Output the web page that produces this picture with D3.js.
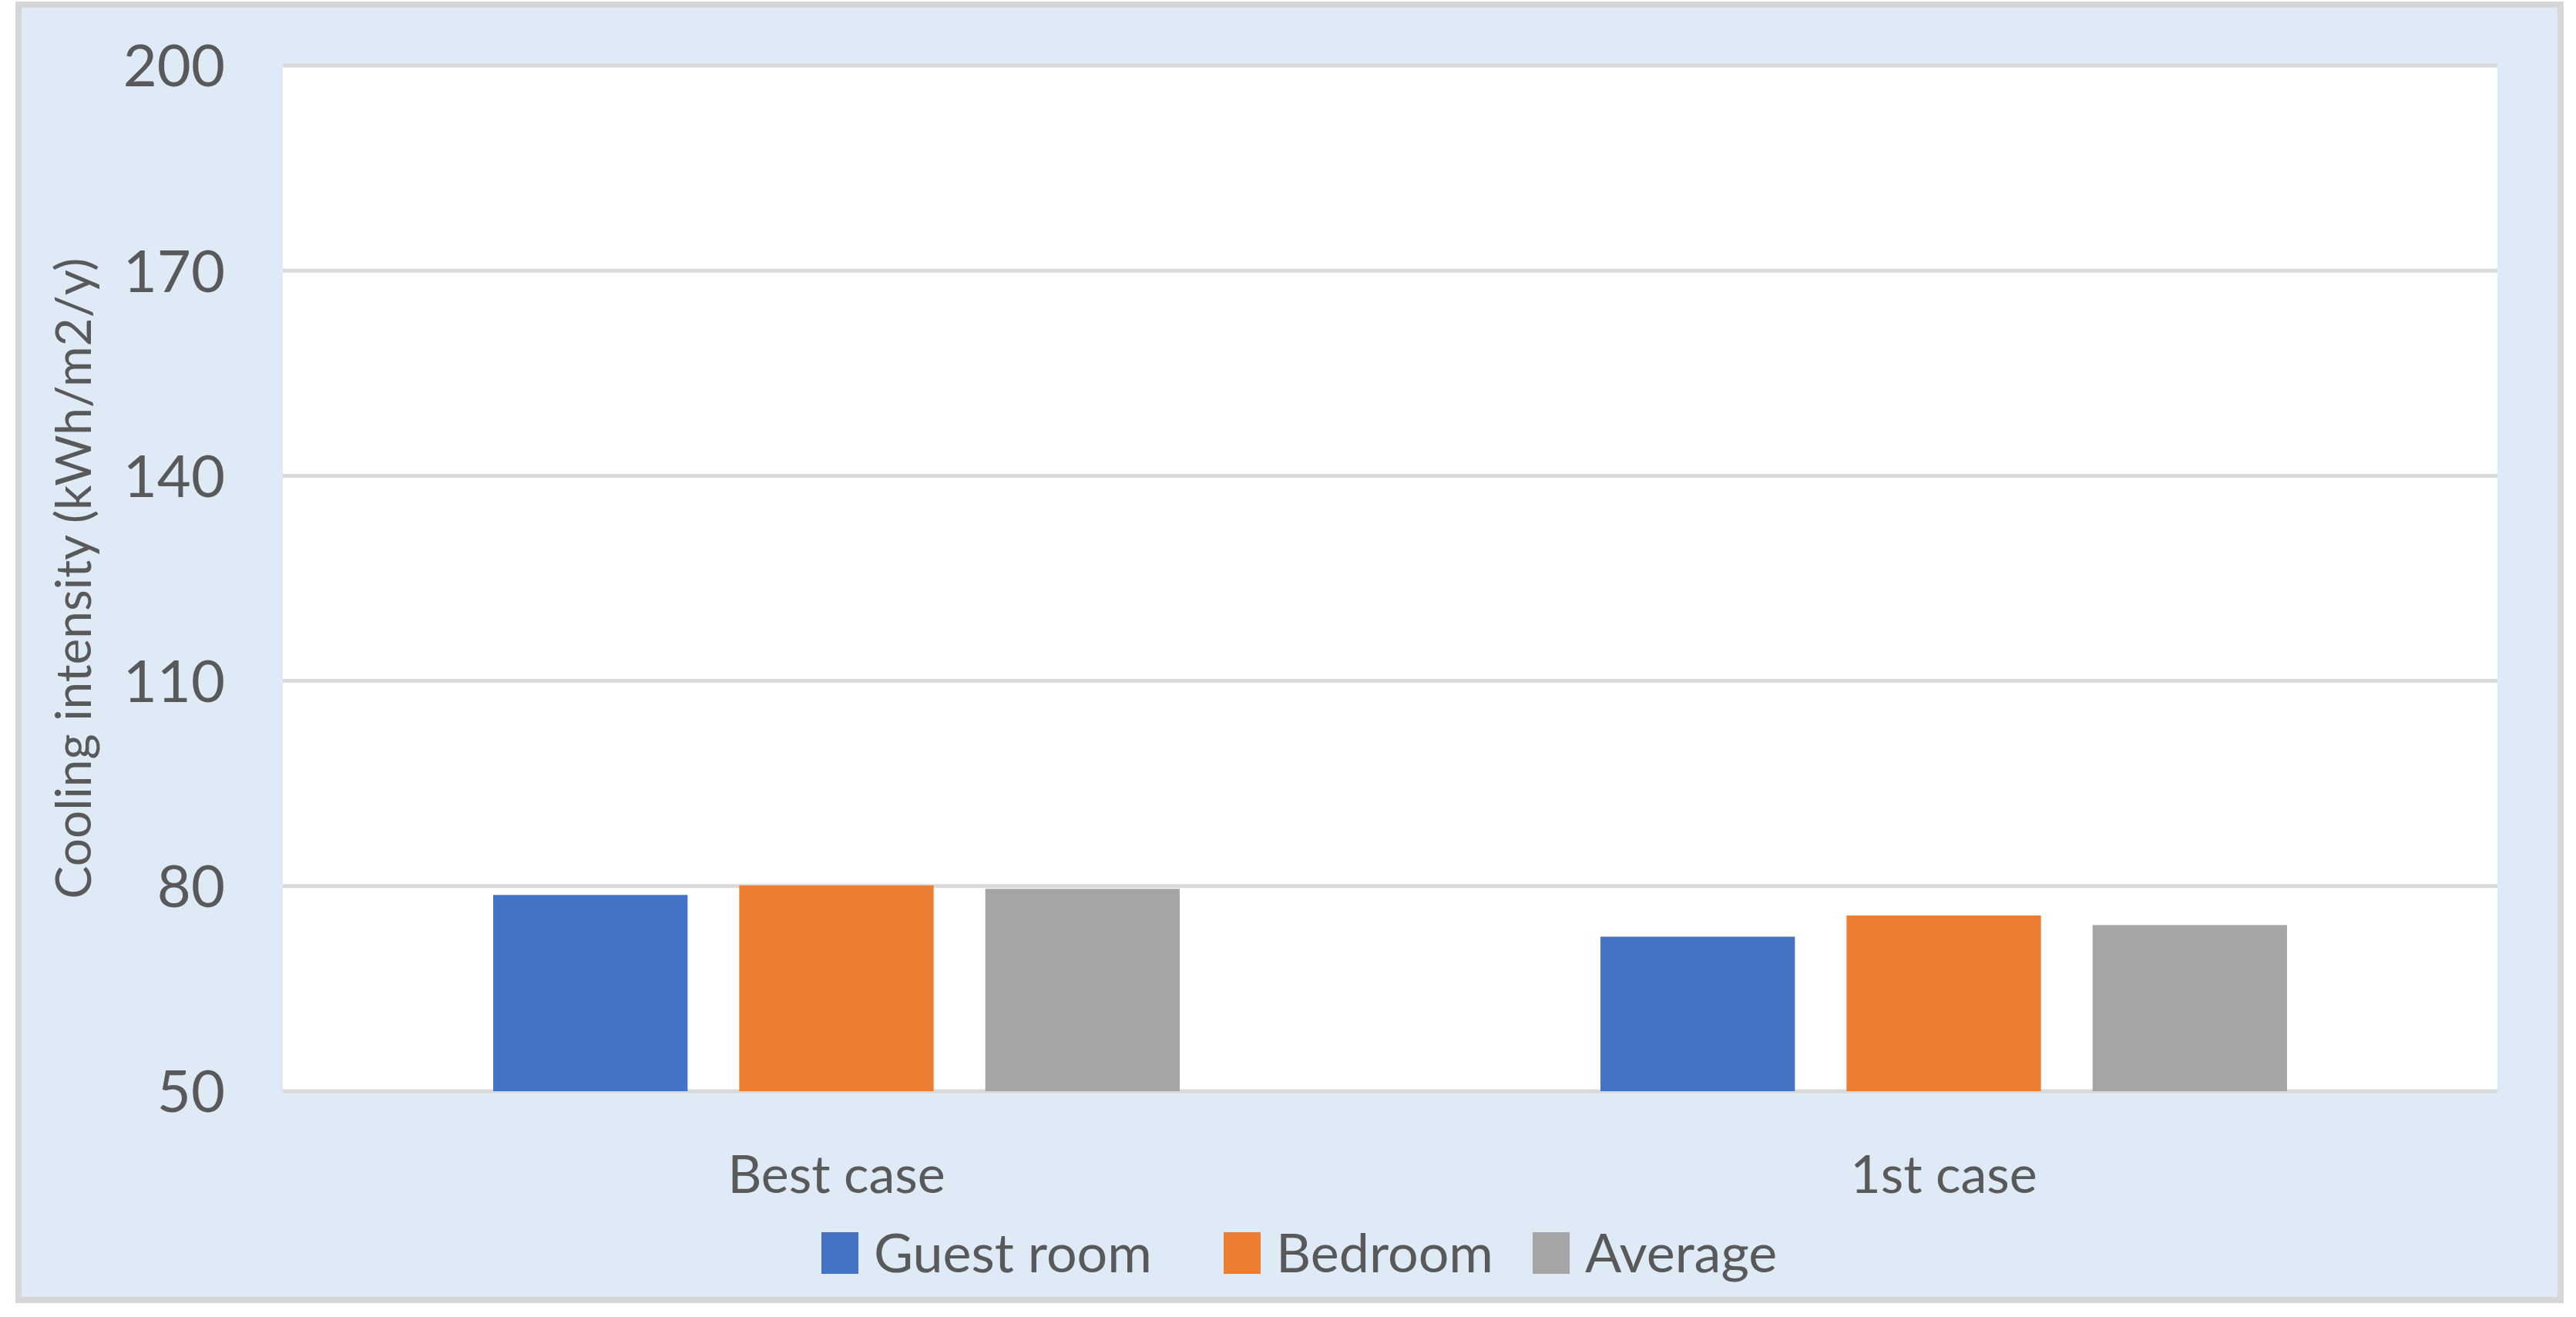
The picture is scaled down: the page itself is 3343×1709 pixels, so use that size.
<!DOCTYPE html>
<html><head><meta charset="utf-8">
<script src="https://cdn.jsdelivr.net/npm/d3@7"></script>
<style>body{margin:0;background:#fff}</style>
</head><body><div id="chart"></div>
<script>
const categories = ["Best case", "1st case"];
const series = ["Guest room", "Bedroom", "Average"];
const colors = ["#4472c4", "#ed7d31", "#a5a5a5"];
const guestRoom = [78.7, 72.6];
const bedroom = [80.1, 75.7];
const average = [79.6, 74.3];
const yTicks = [50, 80, 110, 140, 170, 200];

const W = 3343, H = 1709;
const margin = { top: 85, right: 102, bottom: 293, left: 367 };
const width = W - margin.left - margin.right;
const height = H - margin.top - margin.bottom;
const font = "Lato, 'Open Sans', sans-serif";

const root = d3.select("#chart").append("svg").attr("width", W).attr("height", H);
root.append("rect").attr("x", 24).attr("y", 6).attr("width", W - 44).attr("height", H - 28)
  .attr("fill", "#deeaf5").attr("stroke", "#d6d6d6").attr("stroke-width", 8);

const svg = root.append("g").attr("transform", `translate(${margin.left},${margin.top})`);
svg.append("rect").attr("width", width).attr("height", height).attr("fill", "#fff");

const y = d3.scaleLinear().domain([50, 200]).range([height, 0]);
const x0 = d3.scaleBand().domain(categories).range([0, width]);
const x1 = d3.scaleBand().domain(series)
  .range([x0.bandwidth() * 0.19, x0.bandwidth() * 0.81]).paddingInner(0.21);

svg.append("g").selectAll("line").data(yTicks).join("line")
  .attr("x1", 0).attr("x2", width)
  .attr("y1", d => y(d)).attr("y2", d => y(d))
  .attr("stroke", "#d9d9d9").attr("stroke-width", 5);

const rows = categories.map((c, i) => ({ c, vals: [guestRoom[i], bedroom[i], average[i]] }));
svg.selectAll(".grp").data(rows).join("g")
  .attr("transform", d => `translate(${x0(d.c)},0)`)
  .selectAll("rect").data(d => d.vals.map((v, j) => ({ s: series[j], v, j }))).join("rect")
  .attr("x", d => x1(d.s)).attr("width", x1.bandwidth())
  .attr("y", d => y(d.v)).attr("height", d => y(50) - y(d.v))
  .attr("fill", d => colors[d.j]);

svg.append("g").selectAll("text").data(yTicks).join("text")
  .attr("x", -75).attr("y", d => y(d)).attr("dy", "0.36em")
  .attr("text-anchor", "end").style("font-family", font).style("font-size", "76px")
  .attr("fill", "#595959").text(d => d);

svg.append("g").selectAll("text").data(categories).join("text")
  .attr("x", d => x0(d) + x0.bandwidth() / 2).attr("y", height + 132)
  .attr("text-anchor", "middle").style("font-family", font).style("font-size", "68px")
  .attr("fill", "#595959").text(d => d);

root.append("text")
  .attr("transform", `translate(118,${margin.top + height / 2}) rotate(-90)`)
  .attr("text-anchor", "middle").style("font-family", font).style("font-size", "64px")
  .attr("fill", "#595959").text("Cooling intensity (kWh/m2/y)");

const legendX = [1066, 1588, 1989];
const lg = root.append("g").selectAll("g").data(series).join("g")
  .attr("transform", (d, i) => `translate(${legendX[i]},1599)`);
lg.append("rect").attr("width", 48).attr("height", 54).attr("fill", (d, i) => colors[i]);
lg.append("text").attr("x", 68).attr("y", 27).attr("dy", "0.36em")
  .style("font-family", font).style("font-size", "70px").attr("fill", "#595959").text(d => d);
</script></body></html>
